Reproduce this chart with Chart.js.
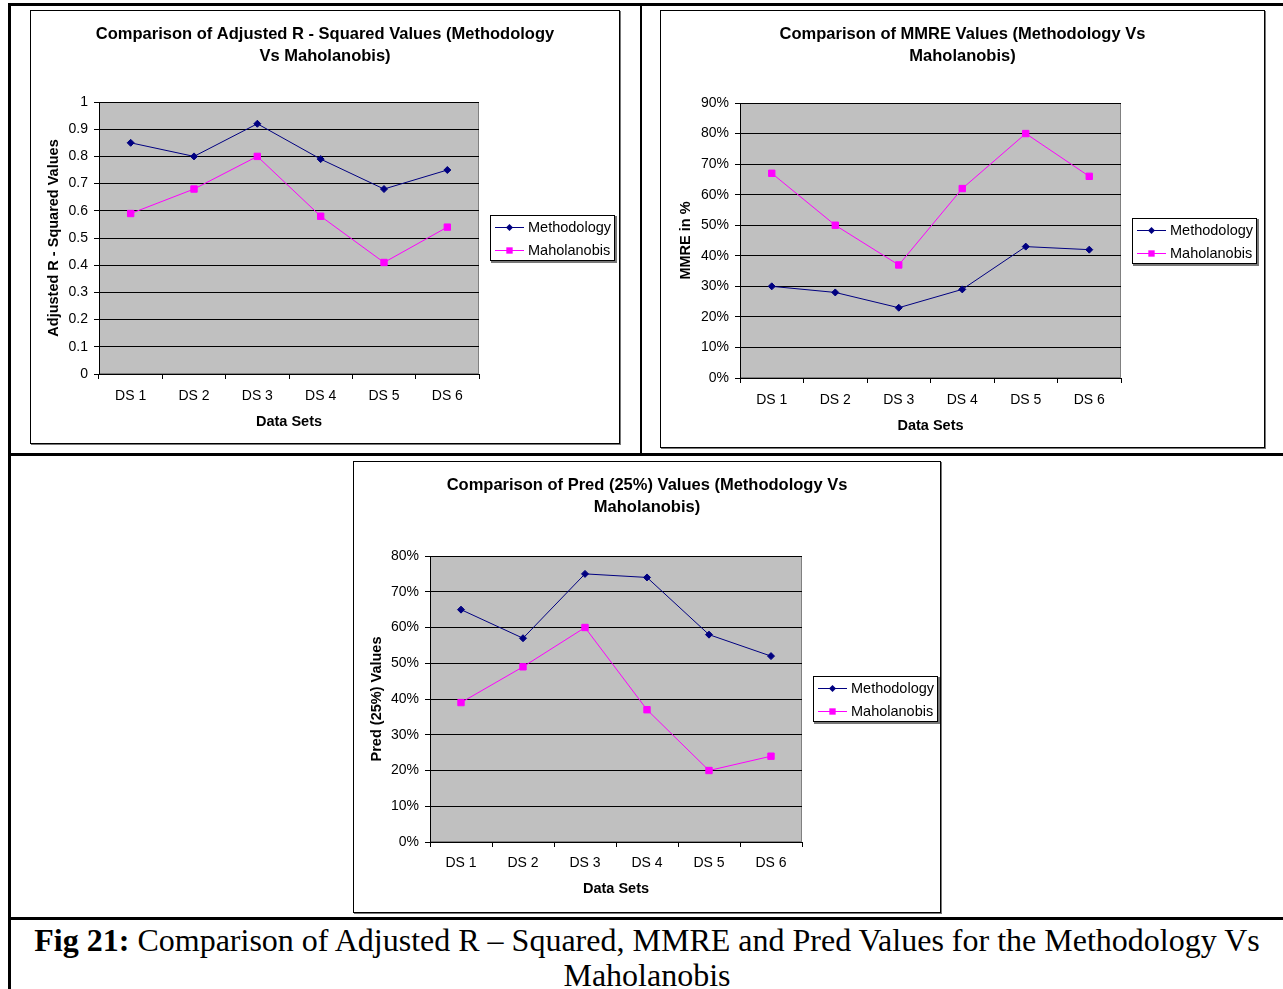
<!DOCTYPE html>
<html>
<head>
<meta charset="utf-8">
<script src="https://cdn.jsdelivr.net/npm/chart.js@4.4.0/dist/chart.umd.min.js"></script>
<style>
  body { margin: 0; background: #fff; }
  #page { position: relative; width: 1283px; height: 989px; overflow: hidden; }
  .rule { position: absolute; background: #000; }
  .box { position: absolute; border: 1px solid #000; box-shadow: 1px 1px 0 #777; background: #fff; }
  .box canvas { display: block; }
  #caption {
    position: absolute; left: 11px; right: 0; top: 923px;
    text-align: center; white-space: nowrap; color: #000;
    font-family: "Liberation Serif", "Times New Roman", serif;
    font-size: 32px; line-height: 35px;
  }
</style>
</head>
<body>
<div id="page">
  <div class="rule" style="left:8px;top:3px;width:1275px;height:3px"></div>
  <div class="rule" style="left:8px;top:3px;width:3px;height:986px"></div>
  <div class="rule" style="left:640px;top:3px;width:2px;height:452px"></div>
  <div class="rule" style="left:8px;top:453px;width:1275px;height:3px"></div>
  <div class="rule" style="left:8px;top:917px;width:1275px;height:3px"></div>

  <div class="box" style="left:30px;top:10px"><canvas id="adjChart" width="588" height="432"></canvas></div>
  <div class="box" style="left:660px;top:10px"><canvas id="mmreChart" width="603" height="436"></canvas></div>
  <div class="box" style="left:353px;top:461px"><canvas id="predChart" width="586" height="450"></canvas></div>

  <div id="caption"><b>Fig 21:</b> Comparison of Adjusted R – Squared, MMRE and Pred Values for the Methodology Vs<br>Maholanobis</div>
</div>

<script>
const categories = ['DS 1', 'DS 2', 'DS 3', 'DS 4', 'DS 5', 'DS 6'];
const seriesNames = ['Methodology', 'Maholanobis'];

// Adjusted R - Squared
const adjMethodology = [0.85, 0.80, 0.92, 0.79, 0.68, 0.75];
const adjMaholanobis = [0.59, 0.68, 0.80, 0.58, 0.41, 0.54];
const adjTicks = ['0', '0.1', '0.2', '0.3', '0.4', '0.5', '0.6', '0.7', '0.8', '0.9', '1'];

// MMRE (%)
const mmreMethodology = [30, 28, 23, 29, 43, 42];
const mmreMaholanobis = [67, 50, 37, 62, 80, 66];
const mmreTicks = ['0%', '10%', '20%', '30%', '40%', '50%', '60%', '70%', '80%', '90%'];

// Pred (25%) (%)
const predMethodology = [65, 57, 75, 74, 58, 52];
const predMaholanobis = [39, 49, 60, 37, 20, 24];
const predTicks = ['0%', '10%', '20%', '30%', '40%', '50%', '60%', '70%', '80%'];

const FONT = '"Liberation Sans", Arial, sans-serif';
const NAVY = '#000080';
const MAGENTA = '#ff00ff';

// grey plot area behind the lines
const plotBg = {
  id: 'plotBg',
  beforeDraw(chart) {
    const { ctx, chartArea: a } = chart;
    ctx.save();
    ctx.fillStyle = '#c0c0c0';
    ctx.fillRect(a.left, a.top, a.width, a.height);
    ctx.strokeStyle = '#808080';
    ctx.lineWidth = 1;
    ctx.strokeRect(a.left + 0.5, a.top + 0.5, a.width - 1, a.height - 1);
    ctx.restore();
  }
};

function drawMarker(ctx, style, x, y, r) {
  ctx.beginPath();
  if (style === 'rectRot') {
    ctx.moveTo(x, y - r); ctx.lineTo(x + r, y); ctx.lineTo(x, y + r); ctx.lineTo(x - r, y);
  } else {
    const s = r * Math.SQRT1_2;
    ctx.rect(x - s, y - s, 2 * s, 2 * s);
  }
  ctx.closePath();
  ctx.fill();
}

// boxed legend to the right of the plot, centred on it
const legendBox = {
  id: 'legendBox',
  afterDraw(chart) {
    const { ctx, chartArea: a } = chart;
    const sets = chart.data.datasets;
    ctx.save();
    ctx.font = '14.5px ' + FONT;
    const textW = Math.max(...sets.map(d => ctx.measureText(d.label).width));
    const w = Math.round(38 + textW + 4), h = 46;
    const x = Math.round(a.right + 11), y = Math.round((a.top + a.bottom) / 2 - h / 2);
    ctx.fillStyle = '#777';
    ctx.fillRect(x + 1, y + 1, w + 1, h + 1);
    ctx.fillStyle = '#fff';
    ctx.fillRect(x, y, w, h);
    ctx.strokeStyle = '#000';
    ctx.lineWidth = 1;
    ctx.strokeRect(x + 0.5, y + 0.5, w - 1, h - 1);
    sets.forEach((d, i) => {
      const cy = y + 12.5 + i * 23;
      ctx.strokeStyle = d.borderColor;
      ctx.beginPath();
      ctx.moveTo(x + 5, cy); ctx.lineTo(x + 34, cy);
      ctx.stroke();
      ctx.fillStyle = d.borderColor;
      drawMarker(ctx, d.pointStyle, x + 19.5, cy, d.pointRadius);
      ctx.fillStyle = '#000';
      ctx.textBaseline = 'middle';
      ctx.fillText(d.label, x + 38, cy);
    });
    ctx.restore();
  }
};

function makeChart(id, cfg) {
  return new Chart(document.getElementById(id), {
    type: 'line',
    data: {
      labels: categories,
      datasets: [
        { label: seriesNames[0], data: cfg.a, borderColor: NAVY, backgroundColor: NAVY,
          borderWidth: 1, pointStyle: 'rectRot', pointRadius: 3.5, pointBorderWidth: 1 },
        { label: seriesNames[1], data: cfg.b, borderColor: MAGENTA, backgroundColor: MAGENTA,
          borderWidth: 1, pointStyle: 'rect', pointRadius: 4.5, pointBorderWidth: 1 }
      ]
    },
    options: {
      responsive: false,
      animation: false,
      events: [],
      layout: { padding: 0 },
      plugins: {
        legend: { display: false },
        tooltip: { enabled: false },
        title: {
          display: true,
          text: cfg.title,
          color: '#000',
          font: { family: FONT, size: 16.5, weight: 'bold', lineHeight: 22 / 16.5 },
          padding: { top: 12, bottom: cfg.titleGap }
        }
      },
      scales: {
        x: {
          offset: true,
          grid: { offset: true, drawOnChartArea: false, color: '#000', tickLength: 5 },
          border: { color: '#000' },
          ticks: { color: '#000', font: { family: FONT, size: 14 }, padding: cfg.xTickPad, maxRotation: 0 },
          title: { display: true, text: 'Data Sets', color: '#000',
                   font: { family: FONT, size: 14.5, weight: 'bold' }, padding: { top: 0, bottom: cfg.xTitlePad } },
          afterFit: s => { s.height = cfg.xHeight; }
        },
        y: {
          min: 0,
          max: cfg.max,
          ticks: { stepSize: cfg.step, color: '#000', font: { family: FONT, size: 14 }, padding: 6,
                   callback: (v, i) => cfg.ticks[i] },
          grid: { color: '#000', tickLength: 5 },
          border: { color: '#000' },
          title: { display: true, text: cfg.yTitle, color: '#000',
                   font: { family: FONT, size: 14.5, weight: 'bold' }, padding: { top: cfg.yTitlePad, bottom: 0 } },
          afterFit: s => { s.width = cfg.yWidth; }
        },
        // empty right-hand axis keeps room for the legend
        gap: {
          position: 'right',
          type: 'linear',
          grid: { display: false },
          border: { display: false },
          ticks: { display: false },
          afterFit: s => { s.width = cfg.gapWidth; }
        }
      }
    },
    plugins: [plotBg, legendBox]
  });
}

makeChart('adjChart', {
  title: ['Comparison of Adjusted R - Squared Values (Methodology', 'Vs Maholanobis)'],
  yTitle: 'Adjusted R - Squared Values',
  a: adjMethodology, b: adjMaholanobis, ticks: adjTicks, max: 1, step: 0.1,
  titleGap: 35, yWidth: 68, gapWidth: 140, xHeight: 69,
  yTitlePad: 14, xTitlePad: 12.5, xTickPad: 9
});

makeChart('mmreChart', {
  title: ['Comparison of MMRE Values (Methodology Vs', 'Maholanobis)'],
  yTitle: 'MMRE in %',
  a: mmreMethodology, b: mmreMaholanobis, ticks: mmreTicks, max: 90, step: 10,
  titleGap: 36, yWidth: 79, gapWidth: 143, xHeight: 69,
  yTitlePad: 16.5, xTitlePad: 12.5, xTickPad: 9
});

makeChart('predChart', {
  title: ['Comparison of Pred (25%) Values (Methodology Vs', 'Maholanobis)'],
  yTitle: 'Pred (25%) Values',
  a: predMethodology, b: predMaholanobis, ticks: predTicks, max: 80, step: 10,
  titleGap: 38, yWidth: 76, gapWidth: 138, xHeight: 70,
  yTitlePad: 14.5, xTitlePad: 14.5, xTickPad: 8
});
</script>
</body>
</html>
